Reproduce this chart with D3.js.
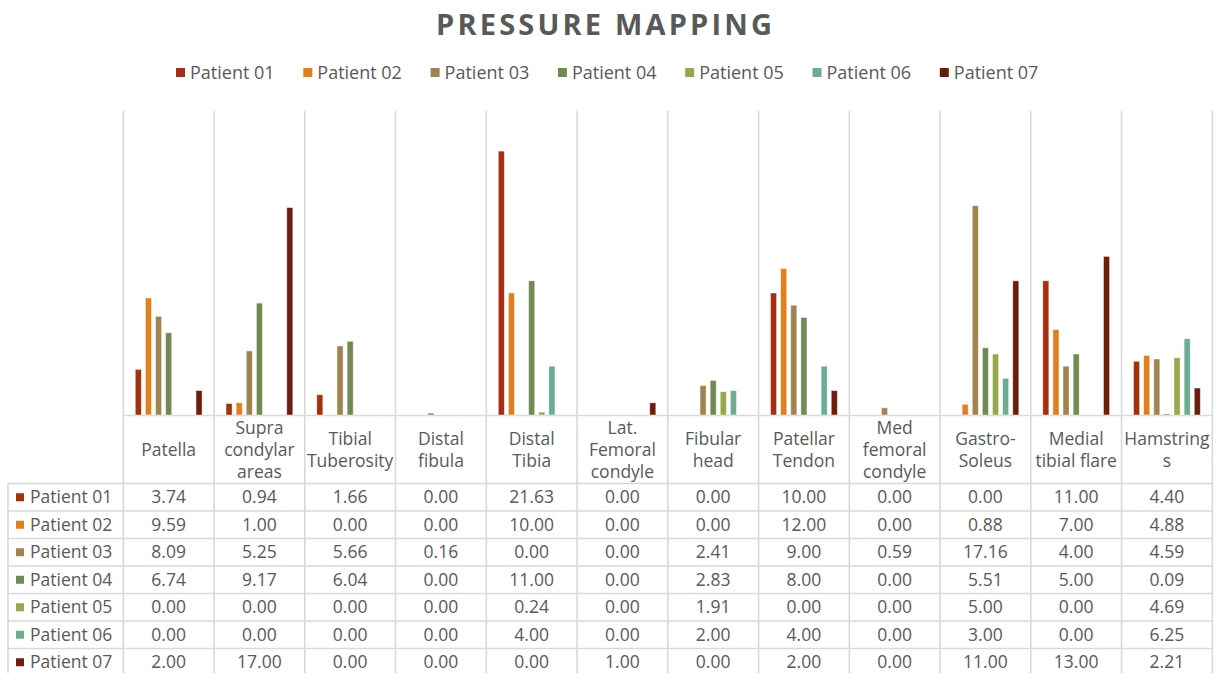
<!DOCTYPE html>
<html>
<head>
<meta charset="utf-8">
<script src="https://cdn.jsdelivr.net/npm/d3@7"></script>
<style>
  html, body { margin: 0; padding: 0; background: #fff; }
  svg { display: block; font-family: "Open Sans", sans-serif; }
</style>
</head>
<body>
<div id="chart"></div>
<script>
// Body regions measured (header labels carry their line breaks)
const categories = [
  "Patella", "Supra\ncondylar\nareas", "Tibial\nTuberosity", "Distal\nfibula",
  "Distal\nTibia", "Lat.\nFemoral\ncondyle", "Fibular\nhead", "Patellar\nTendon",
  "Med\nfemoral\ncondyle", "Gastro-\nSoleus", "Medial\ntibial flare", "Hamstring\ns"
];

const seriesNames = ["Patient 01", "Patient 02", "Patient 03", "Patient 04", "Patient 05", "Patient 06", "Patient 07"];

const patient01 = [3.74, 0.94, 1.66, 0.00, 21.63, 0.00, 0.00, 10.00, 0.00, 0.00, 11.00, 4.40];
const patient02 = [9.59, 1.00, 0.00, 0.00, 10.00, 0.00, 0.00, 12.00, 0.00, 0.88, 7.00, 4.88];
const patient03 = [8.09, 5.25, 5.66, 0.16, 0.00, 0.00, 2.41, 9.00, 0.59, 17.16, 4.00, 4.59];
const patient04 = [6.74, 9.17, 6.04, 0.00, 11.00, 0.00, 2.83, 8.00, 0.00, 5.51, 5.00, 0.09];
const patient05 = [0.00, 0.00, 0.00, 0.00, 0.24, 0.00, 1.91, 0.00, 0.00, 5.00, 0.00, 4.69];
const patient06 = [0.00, 0.00, 0.00, 0.00, 4.00, 0.00, 2.00, 4.00, 0.00, 3.00, 0.00, 6.25];
const patient07 = [2.00, 17.00, 0.00, 0.00, 0.00, 1.00, 0.00, 2.00, 0.00, 11.00, 13.00, 2.21];

const seriesColors = ["#A5300F", "#E07F1C", "#A0834F", "#718A53", "#95A84A", "#6AAD91", "#6B1E0E"];

const yDomain = [0, 25];
const chartTitle = "PRESSURE MAPPING";

// ---------------------------------------------------------------
const series = seriesNames.map((name, i) => ({
  name,
  color: seriesColors[i],
  values: [patient01, patient02, patient03, patient04, patient05, patient06, patient07][i]
}));

const W = 1216, H = 673;
const plot = { left: 123.3, right: 1212.3, top: 110, bottom: 415 };
const table = { left: 8, headerBottom: 483.5, rowH: 27.5 };
const gridColor = "#d9d9d9";
const textColor = "#595959";
const fontSize = 17.5;

const svg = d3.select("#chart").append("svg")
  .attr("width", W).attr("height", H);

const x0 = d3.scaleBand().domain(categories).range([plot.left, plot.right]);
const x1 = d3.scaleBand().domain(seriesNames)
  .range([x0.bandwidth() * 0.132, x0.bandwidth() * 0.868])
  .paddingInner(0.4);
const y = d3.scaleLinear().domain(yDomain).range([plot.bottom, plot.top]);

// Title
svg.append("text")
  .attr("x", 436).attr("y", 35)
  .attr("textLength", 336).attr("lengthAdjust", "spacing")
  .attr("font-size", 29).attr("font-weight", 700)
  .attr("fill", textColor)
  .text(chartTitle);

// Legend
const legendX = d3.scaleBand().domain(seriesNames).range([176, 176 + 7 * 127.3]);
const legend = svg.append("g").selectAll("g").data(series).join("g")
  .attr("transform", d => `translate(${legendX(d.name)},0)`);
legend.append("rect")
  .attr("x", 0).attr("y", 68).attr("width", 9).attr("height", 9)
  .attr("fill", d => d.color);
legend.append("text")
  .attr("x", 14).attr("y", 72.5).attr("dy", "0.35em")
  .attr("font-size", 18).attr("fill", textColor)
  .text(d => d.name);

// Vertical category dividers running through plot and table
const edges = categories.map(c => x0(c)).concat([plot.right]);
const lastRowBottom = table.headerBottom + table.rowH * seriesNames.length;
svg.append("g").selectAll("line").data(edges).join("line")
  .attr("x1", d => d).attr("x2", d => d)
  .attr("y1", plot.top + 1).attr("y2", lastRowBottom)
  .attr("stroke", gridColor).attr("stroke-width", 1.6);

// Category axis line (top of the table header)
const xAxis = svg.append("g")
  .attr("transform", `translate(0,${plot.bottom})`)
  .call(d3.axisBottom(x0).tickSize(0).tickFormat(""));
xAxis.select(".domain").attr("stroke", gridColor).attr("stroke-width", 1.6);

// Bars
const groups = svg.append("g").selectAll("g").data(categories).join("g")
  .attr("transform", c => `translate(${x0(c)},0)`);
groups.selectAll("rect")
  .data((c, ci) => series.map(s => ({ name: s.name, color: s.color, value: s.values[ci] })).filter(d => d.value > 0))
  .join("rect")
  .attr("x", d => x1(d.name))
  .attr("width", x1.bandwidth())
  .attr("y", d => y(d.value))
  .attr("height", d => y(0) - y(d.value))
  .attr("fill", d => d.color)
  .attr("stroke", "#ffffff").attr("stroke-opacity", 0.55).attr("stroke-width", 0.8);

// Data table: header labels
const headerMid = (plot.bottom + table.headerBottom) / 2 + 0.5;
const lineH = 22;
svg.append("g").selectAll("text").data(categories).join("text")
  .attr("x", c => x0(c) + x0.bandwidth() / 2)
  .attr("text-anchor", "middle")
  .attr("font-size", fontSize).attr("fill", textColor)
  .each(function (c) {
    const lines = c.split("\n");
    const t = d3.select(this);
    lines.forEach((ln, i) => {
      t.append("tspan")
        .attr("x", x0(c) + x0.bandwidth() / 2)
        .attr("y", headerMid + (i - (lines.length - 1) / 2) * lineH)
        .attr("dy", "0.35em")
        .text(ln);
    });
  });

// Data table: row lines
const rowLines = d3.range(seriesNames.length + 1).map(i => table.headerBottom + i * table.rowH);
svg.append("g").selectAll("line").data(rowLines).join("line")
  .attr("x1", table.left).attr("x2", plot.right)
  .attr("y1", d => d).attr("y2", d => d)
  .attr("stroke", gridColor).attr("stroke-width", 1.6);
svg.append("line")
  .attr("x1", table.left).attr("x2", table.left)
  .attr("y1", table.headerBottom).attr("y2", lastRowBottom)
  .attr("stroke", gridColor).attr("stroke-width", 1.6);

// Data table: rows
const fmt = d3.format(".2f");
const rows = svg.append("g").selectAll("g").data(series).join("g")
  .attr("transform", (d, i) => `translate(0,${table.headerBottom + table.rowH * (i + 0.5)})`);
rows.append("rect")
  .attr("x", 16).attr("y", -4).attr("width", 8).attr("height", 8)
  .attr("fill", d => d.color);
rows.append("text")
  .attr("x", 30).attr("dy", "0.35em")
  .attr("font-size", fontSize).attr("fill", textColor)
  .text(d => d.name);
rows.selectAll("text.val")
  .data(d => d.values.map((v, ci) => ({ v, c: categories[ci] })))
  .join("text").attr("class", "val")
  .attr("x", d => x0(d.c) + x0.bandwidth() / 2)
  .attr("dy", "0.35em")
  .attr("text-anchor", "middle")
  .attr("font-size", fontSize).attr("fill", textColor)
  .text(d => fmt(d.v));
</script>
</body>
</html>
